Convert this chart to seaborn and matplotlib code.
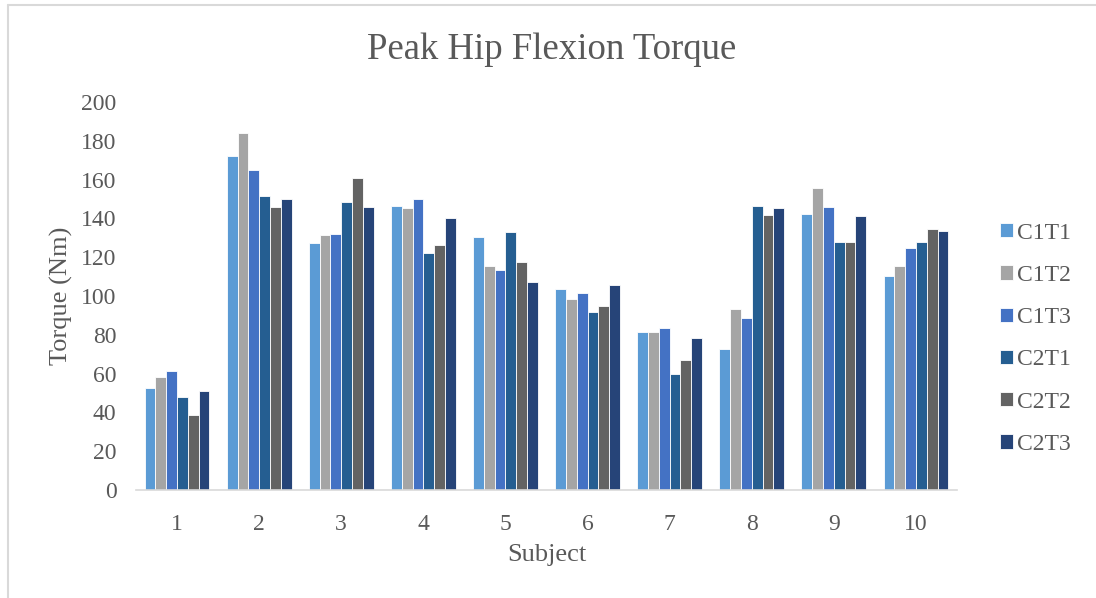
import numpy as np
import pandas as pd
import matplotlib
matplotlib.use("Agg")
import matplotlib.pyplot as plt
from matplotlib.lines import Line2D
import seaborn as sns

subjects = ["1", "2", "3", "4", "5", "6", "7", "8", "9", "10"]
trials = ["C1T1", "C1T2", "C1T3", "C2T1", "C2T2", "C2T3"]

c1t1 = [52.6, 172.3, 127.5, 146.3, 130.4, 103.5, 81.7, 72.9, 142.1, 110.4]
c1t2 = [58.0, 183.8, 131.3, 145.6, 115.6, 98.7, 81.7, 93.4, 155.7, 115.6]
c1t3 = [61.5, 164.9, 132.1, 150.2, 113.4, 101.5, 83.4, 88.5, 145.9, 124.5]
c2t1 = [48.1, 151.8, 148.5, 122.3, 133.0, 91.8, 59.6, 146.4, 127.8, 128.0]
c2t2 = [38.9, 146.1, 160.6, 126.5, 117.7, 94.6, 67.0, 142.0, 127.8, 134.7]
c2t3 = [51.2, 150.2, 145.9, 140.1, 107.1, 105.8, 78.6, 145.2, 141.1, 133.7]

colors = ["#5B9BD5", "#A5A5A5", "#4472C4", "#255E91", "#636363", "#264478"]
text_color = "#595959"

rows = []
for trial, vals in zip(trials, [c1t1, c1t2, c1t3, c2t1, c2t2, c2t3]):
    for s, v in zip(subjects, vals):
        rows.append({"Subject": s, "Trial": trial, "Torque": v})
df = pd.DataFrame(rows)

sns.set_style("white")
plt.rcParams["font.family"] = ["Liberation Serif", "DejaVu Serif"]

W, H = 1096, 598
fig = plt.figure(figsize=(W / 100, H / 100), dpi=100)
ax = fig.add_axes([136 / W, 1 - 490 / H, (957 - 136) / W, (490 - 102) / H])

# chart border (only top and left visible in the crop)
fig.add_artist(Line2D([8 / W, 8 / W], [0, 1 - 5 / H], transform=fig.transFigure,
                      color="#D9D9D9", lw=1.5))
fig.add_artist(Line2D([8 / W, 1], [1 - 5 / H, 1 - 5 / H], transform=fig.transFigure,
                      color="#D9D9D9", lw=1.5))

sns.barplot(data=df, x="Subject", y="Torque", hue="Trial", order=subjects,
            hue_order=trials, palette=colors, width=0.79, ax=ax,
            edgecolor="white", linewidth=0.6, saturation=1, errorbar=None)

ax.set_ylim(0, 200)
ax.set_yticks(np.arange(0, 201, 20))
ax.set_xlim(-0.5, 9.5)
ax.tick_params(axis="y", length=0, labelsize=17, colors=text_color, pad=14)
ax.tick_params(axis="x", length=0, labelsize=17, colors=text_color, pad=17)
for side in ["top", "right", "left"]:
    ax.spines[side].set_visible(False)
ax.spines["bottom"].set_color("#D9D9D9")
ax.spines["bottom"].set_linewidth(1.2)

ax.set_xlabel("Subject", fontsize=19, color=text_color, labelpad=7)
ax.set_ylabel("Torque (Nm)", fontsize=19, color=text_color, labelpad=6)
fig.text(552 / W, 1 - 50 / H, "Peak Hip Flexion Torque", fontsize=26.5,
         color=text_color, ha="center", va="center")

leg = ax.legend(loc="center left", bbox_to_anchor=(1.052, 0.39), frameon=False,
                fontsize=17, labelcolor=text_color, handlelength=0.55,
                handleheight=0.55, handletextpad=0.2, labelspacing=0.9,
                borderpad=0, borderaxespad=0)

fig.savefig("out.png", dpi=100)
